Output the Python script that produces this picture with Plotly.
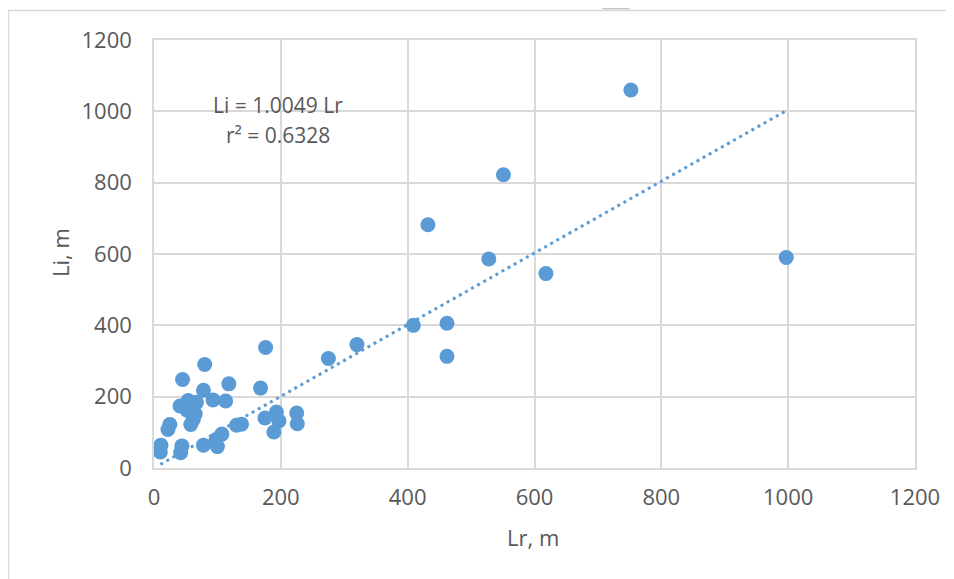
import plotly.graph_objects as go

# Data
Lr = [752, 551, 432, 528, 618, 997, 409, 462, 462, 320, 275, 176, 168, 118, 80, 45,
      78, 93, 113, 175, 193, 197, 189, 225, 226, 130, 138, 107, 98, 100, 78, 44, 42,
      11, 10, 25, 22, 41, 54, 67, 52, 65, 58, 62]
Li = [1060, 822, 682, 586, 545, 590, 400, 406, 313, 346, 307, 338, 224, 236, 290, 248,
      218, 191, 188, 140, 157, 132, 101, 154, 124, 120, 123, 95, 80, 60, 64, 62, 43,
      64, 45, 122, 108, 174, 189, 184, 162, 152, 122, 136]
slope = 1.0049
eq_text = "Li = 1.0049 Lr"
r2_text = "r² = 0.6328"
tick_vals = [0, 200, 400, 600, 800, 1000, 1200]

OFF = 8  # page body margin offset
W, H = 954 - OFF, 579 - OFF
# plot area in reference-window pixels
L, R, T, B = 154, 915, 40, 468


def px(x):
    return (x - L) / (R - L)


def py(y):
    return (B - y) / (B - T)


BLUE = "#5B9BD5"
GRID = "#d9d9d9"
TXT = "#595959"
FONT = "Open Sans"

trend_x = [min(Lr), max(Lr)]
trend_y = [slope * v for v in trend_x]

fig = go.Figure()
fig.add_trace(go.Scatter(x=trend_x, y=trend_y, mode="lines",
                         line=dict(color=BLUE, width=3, dash="3px,4px"),
                         hoverinfo="skip", showlegend=False))
fig.add_trace(go.Scatter(x=Lr, y=Li, mode="markers",
                         marker=dict(color=BLUE, size=15, line=dict(width=0)),
                         showlegend=False))

axis_common = dict(range=[0, 1200], tickvals=tick_vals, showgrid=True,
                   gridcolor=GRID, gridwidth=1.5, zeroline=False,
                   showline=True, linecolor=GRID, linewidth=1.5, mirror=True,
                   tickfont=dict(family=FONT, size=22, color=TXT), ticks="",
                   fixedrange=True)

fig.update_layout(
    width=W, height=H,
    margin=dict(l=L - OFF, r=(954 - R), t=T - OFF, b=(579 - B), pad=0),
    paper_bgcolor="white", plot_bgcolor="white",
    xaxis=dict(**axis_common, ticklabelstandoff=9),
    yaxis=dict(**axis_common, ticklabelstandoff=16),
    font=dict(family=FONT, color=TXT),
    annotations=[
        dict(text=eq_text, x=195.6, y=1017, xref="x", yref="y", showarrow=False,
             font=dict(family=FONT, size=21, color=TXT), xanchor="center", yanchor="middle"),
        dict(text=r2_text, x=195.6, y=935, xref="x", yref="y", showarrow=False,
             font=dict(family=FONT, size=21, color=TXT), xanchor="center", yanchor="middle"),
        dict(text="Li, m", x=px(60), y=py(253), xref="paper", yref="paper", showarrow=False,
             textangle=-90, font=dict(family=FONT, size=22, color=TXT),
             xanchor="center", yanchor="middle"),
        dict(text="Lr, m", x=px(533), y=py(537), xref="paper", yref="paper", showarrow=False,
             font=dict(family=FONT, size=22, color=TXT),
             xanchor="center", yanchor="middle"),
    ],
    shapes=[
        dict(type="rect", xref="paper", yref="paper", x0=px(8.5), x1=px(970),
             y0=py(600), y1=py(10.5), line=dict(color=GRID, width=1.5),
             fillcolor="rgba(0,0,0,0)", layer="below"),
        dict(type="path", xref="paper", yref="paper",
             path=f"M {px(595)} {py(0)} L {px(625)} {py(0)} L {px(630)} {py(9.5)} L {px(603)} {py(9.5)} Z",
             fillcolor="#c8c8c8", line=dict(width=0)),
    ],
)

fig.write_html("out.html")
